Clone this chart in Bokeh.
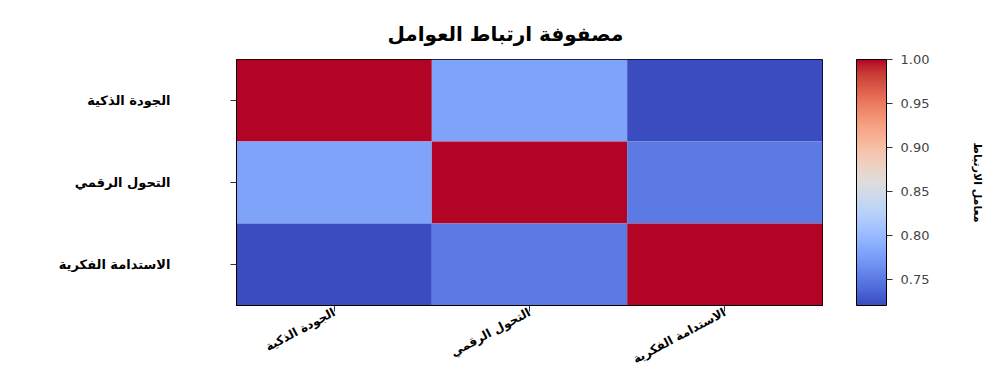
import math
from bokeh.plotting import figure
from bokeh.models import (ColumnDataSource, LinearColorMapper, ColorBar, FixedTicker,
                          PrintfTickFormatter, CategoricalAxis)
from bokeh.transform import transform
from bokeh.embed import file_html
from bokeh.resources import INLINE

# ---- data ----
factors = ["الجودة الذكية", "التحول الرقمي", "الاستدامة الفكرية"]
corr_row1 = [1.00, 0.78, 0.72]
corr_row2 = [0.78, 1.00, 0.75]
corr_row3 = [0.72, 0.75, 1.00]
cbar_ticks = [0.75, 0.80, 0.85, 0.90, 0.95, 1.00]
title_text = "مصفوفة ارتباط العوامل"
cbar_label = "معامل الارتباط"

# ---- coolwarm palette (Moreland diverging map anchors) ----
cw_anchors = [
    (59, 76, 192), (68, 90, 204), (77, 104, 215), (87, 117, 225), (98, 130, 234),
    (108, 142, 241), (119, 154, 247), (130, 165, 251), (141, 176, 254), (152, 185, 255),
    (163, 194, 255), (174, 201, 253), (184, 208, 249), (194, 213, 244), (204, 217, 238),
    (213, 219, 230), (221, 221, 221), (229, 216, 209), (236, 211, 197), (241, 204, 185),
    (245, 196, 173), (247, 187, 160), (247, 177, 148), (247, 166, 135), (244, 154, 123),
    (241, 141, 111), (236, 127, 99), (229, 112, 88), (222, 96, 77), (213, 80, 66),
    (203, 62, 56), (192, 40, 47), (180, 4, 38)]


def build_palette(anchors, n=256):
    out = []
    m = len(anchors) - 1
    for i in range(n):
        t = i / (n - 1) * m
        k = min(int(t), m - 1)
        f = t - k
        a, b = anchors[k], anchors[k + 1]
        c = tuple(int(round(a[j] + (b[j] - a[j]) * f)) for j in range(3))
        out.append("#%02x%02x%02x" % c)
    return out


palette = build_palette(cw_anchors)

rows = [corr_row1, corr_row2, corr_row3]
xs, ys, vals = [], [], []
for i, row in enumerate(rows):
    for j, v in enumerate(row):
        xs.append(factors[j])
        ys.append(factors[i])
        vals.append(v)
source = ColumnDataSource(dict(x=xs, y=ys, v=vals))

all_vals = corr_row1 + corr_row2 + corr_row3
mapper = LinearColorMapper(palette=palette, low=min(all_vals), high=max(all_vals))

FONT = "DejaVu Sans"

p = figure(width=989, height=376, x_range=factors, y_range=list(reversed(factors)),
           output_backend="svg", toolbar_location=None,
           min_border_left=236, min_border_top=59, min_border_right=167, min_border_bottom=71)

p.rect(x="x", y="y", width=1, height=1, source=source,
       fill_color=transform("v", mapper), line_color=None)

p.title.text = title_text
p.title.align = "left"
p.title.offset = 151
p.title.standoff = 28
p.title.text_font = FONT
p.title.text_font_size = "20px"
p.title.text_font_style = "bold"
p.title.text_color = "black"

p.outline_line_color = "black"
p.outline_line_width = 1
p.xgrid.grid_line_color = None
p.ygrid.grid_line_color = None
p.background_fill_color = "white"

for ax in (p.xaxis[0], p.yaxis[0]):
    ax.axis_line_color = "black"
    ax.major_tick_line_color = "#333333"
    ax.major_tick_out = 6
    ax.major_tick_in = 0
    ax.minor_tick_line_color = None
    ax.major_label_text_font = FONT
    ax.major_label_text_font_style = "bold"
    ax.major_label_text_color = "black"

p.yaxis[0].major_label_text_font_size = "13px"
p.yaxis[0].major_label_standoff = 60
p.xaxis[0].major_label_text_font_size = "12px"
p.xaxis[0].major_label_orientation = 0.49
p.xaxis[0].major_label_standoff = 0

# spacer between the heatmap and the colour bar (invisible long ticks)
spacer = CategoricalAxis(axis_line_color=None, major_tick_line_alpha=0,
                         minor_tick_line_color=None, major_tick_out=34, major_tick_in=0,
                         major_label_text_font_size="0px", major_label_text_alpha=0,
                         major_label_standoff=0)
p.add_layout(spacer, "right")

cbar = ColorBar(color_mapper=mapper, ticker=FixedTicker(ticks=cbar_ticks),
                formatter=PrintfTickFormatter(format="%.2f"),
                width=30, padding=0, margin=0,
                bar_line_color="black", bar_line_width=1,
                major_tick_out=6, major_tick_in=0, major_tick_line_color="#333333",
                major_label_text_font=FONT, major_label_text_font_size="13px",
                major_label_text_color="#444444", label_standoff=8,
                background_fill_alpha=0, border_line_color=None)
p.add_layout(cbar, "right")

lab_ax = CategoricalAxis(axis_line_color=None, major_tick_line_color=None,
                         minor_tick_line_color=None, major_tick_out=0,
                         major_label_text_font_size="0px",
                         major_label_text_alpha=0,
                         axis_label=cbar_label,
                         axis_label_text_font=FONT, axis_label_text_font_size="11px",
                         axis_label_text_font_style="bold", axis_label_text_color="black",
                         axis_label_standoff=38)
p.add_layout(lab_ax, "right")

open("out.html", "w").write(file_html(p, INLINE))
